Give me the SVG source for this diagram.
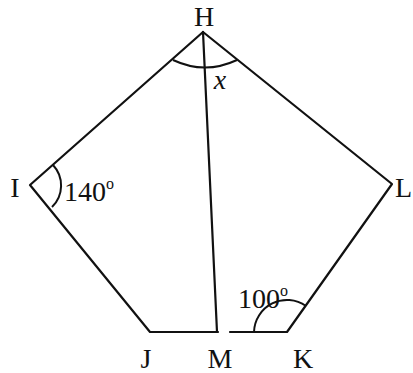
<svg xmlns="http://www.w3.org/2000/svg" width="413" height="373" viewBox="0 0 413 373">
<style>
.e{stroke:#111;stroke-width:2.2;fill:none;stroke-linecap:round;stroke-linejoin:round}
.a{stroke:#111;stroke-width:2;fill:none}
.t{font-family:"Liberation Serif",serif;font-size:28px;fill:#111}
</style>
<rect width="413" height="373" fill="#fff"/>
<g id="connectors">
<path class="e" d="M203,32 L30,185 L150,332 L218,332"/>
<path class="e" d="M230,332 L287,332 L392,184 L203,32"/>
<path class="e" d="M203,32 L217,332"/>
</g>
<g id="H"><text class="t" x="204" y="26" text-anchor="middle">H</text>
<path class="a" d="M173,60 Q205,75 237,60"/>
<text class="t" x="220" y="89" text-anchor="middle" font-style="italic" font-size="24">x</text></g>
<g id="I"><text class="t" x="15" y="197" text-anchor="middle">I</text>
<path class="a" d="M53,165 A30,30 0 0 1 52,207"/>
<text class="t" x="64" y="201">140<tspan font-size="16" dy="-12">o</tspan></text></g>
<g id="J"><text class="t" x="146" y="368" text-anchor="middle">J</text></g>
<g id="M"><text class="t" x="220" y="368" text-anchor="middle">M</text></g>
<g id="K"><text class="t" x="303" y="368" text-anchor="middle">K</text>
<path class="a" d="M254,332 A33,33 0 0 1 306,306"/>
<text class="t" x="238" y="308">100<tspan font-size="16" dy="-12">o</tspan></text></g>
<g id="L"><text class="t" x="395" y="197">L</text></g>
</svg>
